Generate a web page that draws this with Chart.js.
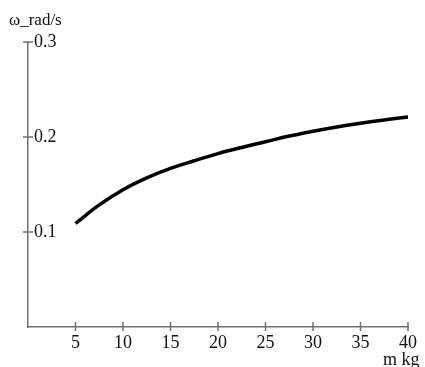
<!DOCTYPE html>
<html>
<head>
    <title>Angular speed vs mass</title>
    <script src="https://cdn.jsdelivr.net/npm/chart.js"></script>
    <style>
        body { margin: 0; background: #fff; }
    </style>
</head>
<body>
    <canvas id="omegaChart" width="425" height="367"></canvas>

    <script>
        // values
        const massKg = [5, 7.5, 10, 12.5, 15, 17.5, 20, 22.5, 25, 27.5, 30, 32.5, 35, 37.5, 40];
        const omega = [0.109, 0.1285, 0.1445, 0.157, 0.167, 0.175, 0.1825, 0.189, 0.195, 0.201, 0.206, 0.2105, 0.2145, 0.218, 0.221];
        const xTicks = [5, 10, 15, 20, 25, 30, 35, 40];
        const yTicks = [0.1, 0.2, 0.3];
        const yLabel = 'ω_rad/s';
        const xLabel = 'm kg';

        const axisColor = '#707070';
        const font = { family: 'Liberation Serif', size: 18 };

        // small cross ticks on both axes + axis captions
        const axisDecor = {
            id: 'axisDecor',
            afterDraw(chart) {
                const ctx = chart.ctx;
                const xs = chart.scales.x, ys = chart.scales.y;
                const x0 = xs.getPixelForValue(0), y0 = ys.getPixelForValue(0);
                ctx.save();
                ctx.strokeStyle = axisColor;
                ctx.lineWidth = 1.5;
                ctx.beginPath();
                xTicks.forEach(v => {
                    const px = xs.getPixelForValue(v);
                    ctx.moveTo(px, y0 - 5);
                    ctx.lineTo(px, y0 + 4);
                });
                yTicks.forEach(v => {
                    const py = ys.getPixelForValue(v);
                    ctx.moveTo(x0 - 5, py);
                    ctx.lineTo(x0 + 5, py);
                });
                ctx.stroke();

                ctx.fillStyle = '#111';
                ctx.font = '17px "Liberation Serif"';
                ctx.textBaseline = 'alphabetic';
                ctx.textAlign = 'left';
                ctx.fillText(yLabel, 9, 25);
                ctx.font = '18px "Liberation Serif"';
                ctx.fillText(xLabel, 383, 365);
                ctx.restore();
            }
        };

        const ctx = document.getElementById('omegaChart').getContext('2d');
        new Chart(ctx, {
            type: 'line',
            data: {
                labels: massKg,
                datasets: [{
                    data: omega,
                    borderColor: '#000',
                    borderWidth: 3.5,
                    pointRadius: 0,
                    tension: 0.4,
                    fill: false
                }]
            },
            options: {
                responsive: false,
                animation: false,
                layout: { padding: { top: 42, right: 17, left: 0, bottom: 0 } },
                plugins: { legend: { display: false }, tooltip: { enabled: false } },
                scales: {
                    x: {
                        type: 'linear',
                        min: 0,
                        max: 40,
                        afterFit: s => { s.height = 40; },
                        afterBuildTicks: s => { s.ticks = xTicks.map(v => ({ value: v })); },
                        grid: { display: false, drawTicks: false },
                        border: { color: axisColor, width: 1.5 },
                        ticks: { color: '#111', font: font, padding: 5, maxRotation: 0 }
                    },
                    y: {
                        min: 0,
                        max: 0.3,
                        afterFit: s => { s.width = 28; },
                        afterBuildTicks: s => { s.ticks = yTicks.map(v => ({ value: v })); },
                        grid: { display: false, drawTicks: false },
                        border: { color: axisColor, width: 1.5 },
                        ticks: { color: '#111', font: font, mirror: true, padding: 6 }
                    }
                }
            },
            plugins: [axisDecor]
        });
    </script>
</body>
</html>
